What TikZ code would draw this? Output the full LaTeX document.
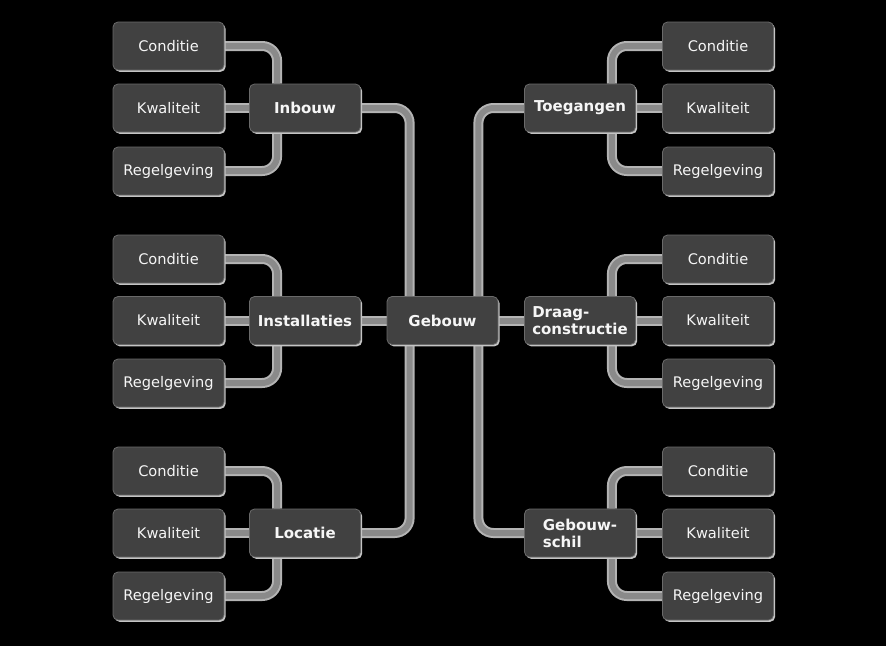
\documentclass[tikz,border=0pt]{standalone}
\usepackage{fontspec}
\setmainfont{DejaVu Sans}
\usetikzlibrary{shadows}
\definecolor{boxfill}{HTML}{414141}
\definecolor{boxedge}{HTML}{6A6A6A}
\definecolor{bevel}{HTML}{C4C4C4}
\definecolor{pipeedge}{HTML}{B4B4B4}
\definecolor{pipein}{HTML}{8A8A8A}
\definecolor{txt}{HTML}{F6F6F6}
\pgfdeclarelayer{back}
\pgfdeclarelayer{conn}
\pgfsetlayers{back,conn,main}
\tikzset{
  box/.style={rounded corners=5pt, fill=boxfill, draw=boxedge, line width=0.8pt,
    minimum width=111pt, minimum height=48pt, inner sep=0pt, text=txt,
    drop shadow={shadow xshift=1.6pt, shadow yshift=-1.8pt, fill=bevel, opacity=1}},
  leaf/.style={box, font=\fontsize{14.6}{16}\selectfont},
  mid/.style={box, font=\fontsize{15}{17}\selectfont\bfseries, align=left},
  pipe/.style={draw=pipeedge, line width=2pt, double=pipein, double distance=6pt, rounded corners=15pt}
}
\begin{document}
\begin{tikzpicture}[x=1pt,y=-1pt]
\begin{pgfonlayer}{back}
\fill[black] (0,0) rectangle (886,646);
\end{pgfonlayer}
\useasboundingbox (0,0) rectangle (886,646);
% centre
\node[mid] (gb) at (442.5,320.5) {Gebouw};
% middle nodes
\node[mid] (ib) at (305,108) {Inbouw};
\node[mid] (in) at (305,320.5) {Installaties};
\node[mid] (lo) at (305,533) {Locatie};
\node[mid] (tg) at (580,108) {Toegangen};
\node[mid] (dc) at (580,320.5) {Draag-\\constructie};
\node[mid] (gs) at (580,533) {Gebouw-\\schil};
% left leaves
\node[leaf] (l1c) at (168.5,46) {Conditie};
\node[leaf] (l1k) at (168.5,108) {Kwaliteit};
\node[leaf] (l1r) at (168.5,171) {Regelgeving};
\node[leaf] (l2c) at (168.5,259) {Conditie};
\node[leaf] (l2k) at (168.5,320.5) {Kwaliteit};
\node[leaf] (l2r) at (168.5,383) {Regelgeving};
\node[leaf] (l3c) at (168.5,471) {Conditie};
\node[leaf] (l3k) at (168.5,533) {Kwaliteit};
\node[leaf] (l3r) at (168.5,596) {Regelgeving};
% right leaves
\node[leaf] (r1c) at (718,46) {Conditie};
\node[leaf] (r1k) at (718,108) {Kwaliteit};
\node[leaf] (r1r) at (718,171) {Regelgeving};
\node[leaf] (r2c) at (718,259) {Conditie};
\node[leaf] (r2k) at (718,320.5) {Kwaliteit};
\node[leaf] (r2r) at (718,383) {Regelgeving};
\node[leaf] (r3c) at (718,471) {Conditie};
\node[leaf] (r3k) at (718,533) {Kwaliteit};
\node[leaf] (r3r) at (718,596) {Regelgeving};
\begin{pgfonlayer}{conn}
% centre links
\draw[pipe] (ib.east) -| ([xshift=23pt]gb.north west);
\draw[pipe] (lo.east) -| ([xshift=23pt]gb.south west);
\draw[pipe] (tg.west) -| ([xshift=-20pt]gb.north east);
\draw[pipe] (gs.west) -| ([xshift=-20pt]gb.south east);
\draw[pipe] (in.east) -- (gb.west);
\draw[pipe] (gb.east) -- (dc.west);
% left groups
\foreach \m/\c/\k/\r in {ib/l1c/l1k/l1r, in/l2c/l2k/l2r, lo/l3c/l3k/l3r}{
  \draw[pipe] ([xshift=28pt]\m.north west) |- (\c.east);
  \draw[pipe] ([xshift=28pt]\m.south west) |- (\r.east);
  \draw[pipe] (\k.east) -- (\m.west);
}
% right groups
\foreach \m/\c/\k/\r in {tg/r1c/r1k/r1r, dc/r2c/r2k/r2r, gs/r3c/r3k/r3r}{
  \draw[pipe] ([xshift=-24pt]\m.north east) |- (\c.west);
  \draw[pipe] ([xshift=-24pt]\m.south east) |- (\r.west);
  \draw[pipe] (\m.east) -- (\k.west);
}
\end{pgfonlayer}
\end{tikzpicture}
\end{document}
